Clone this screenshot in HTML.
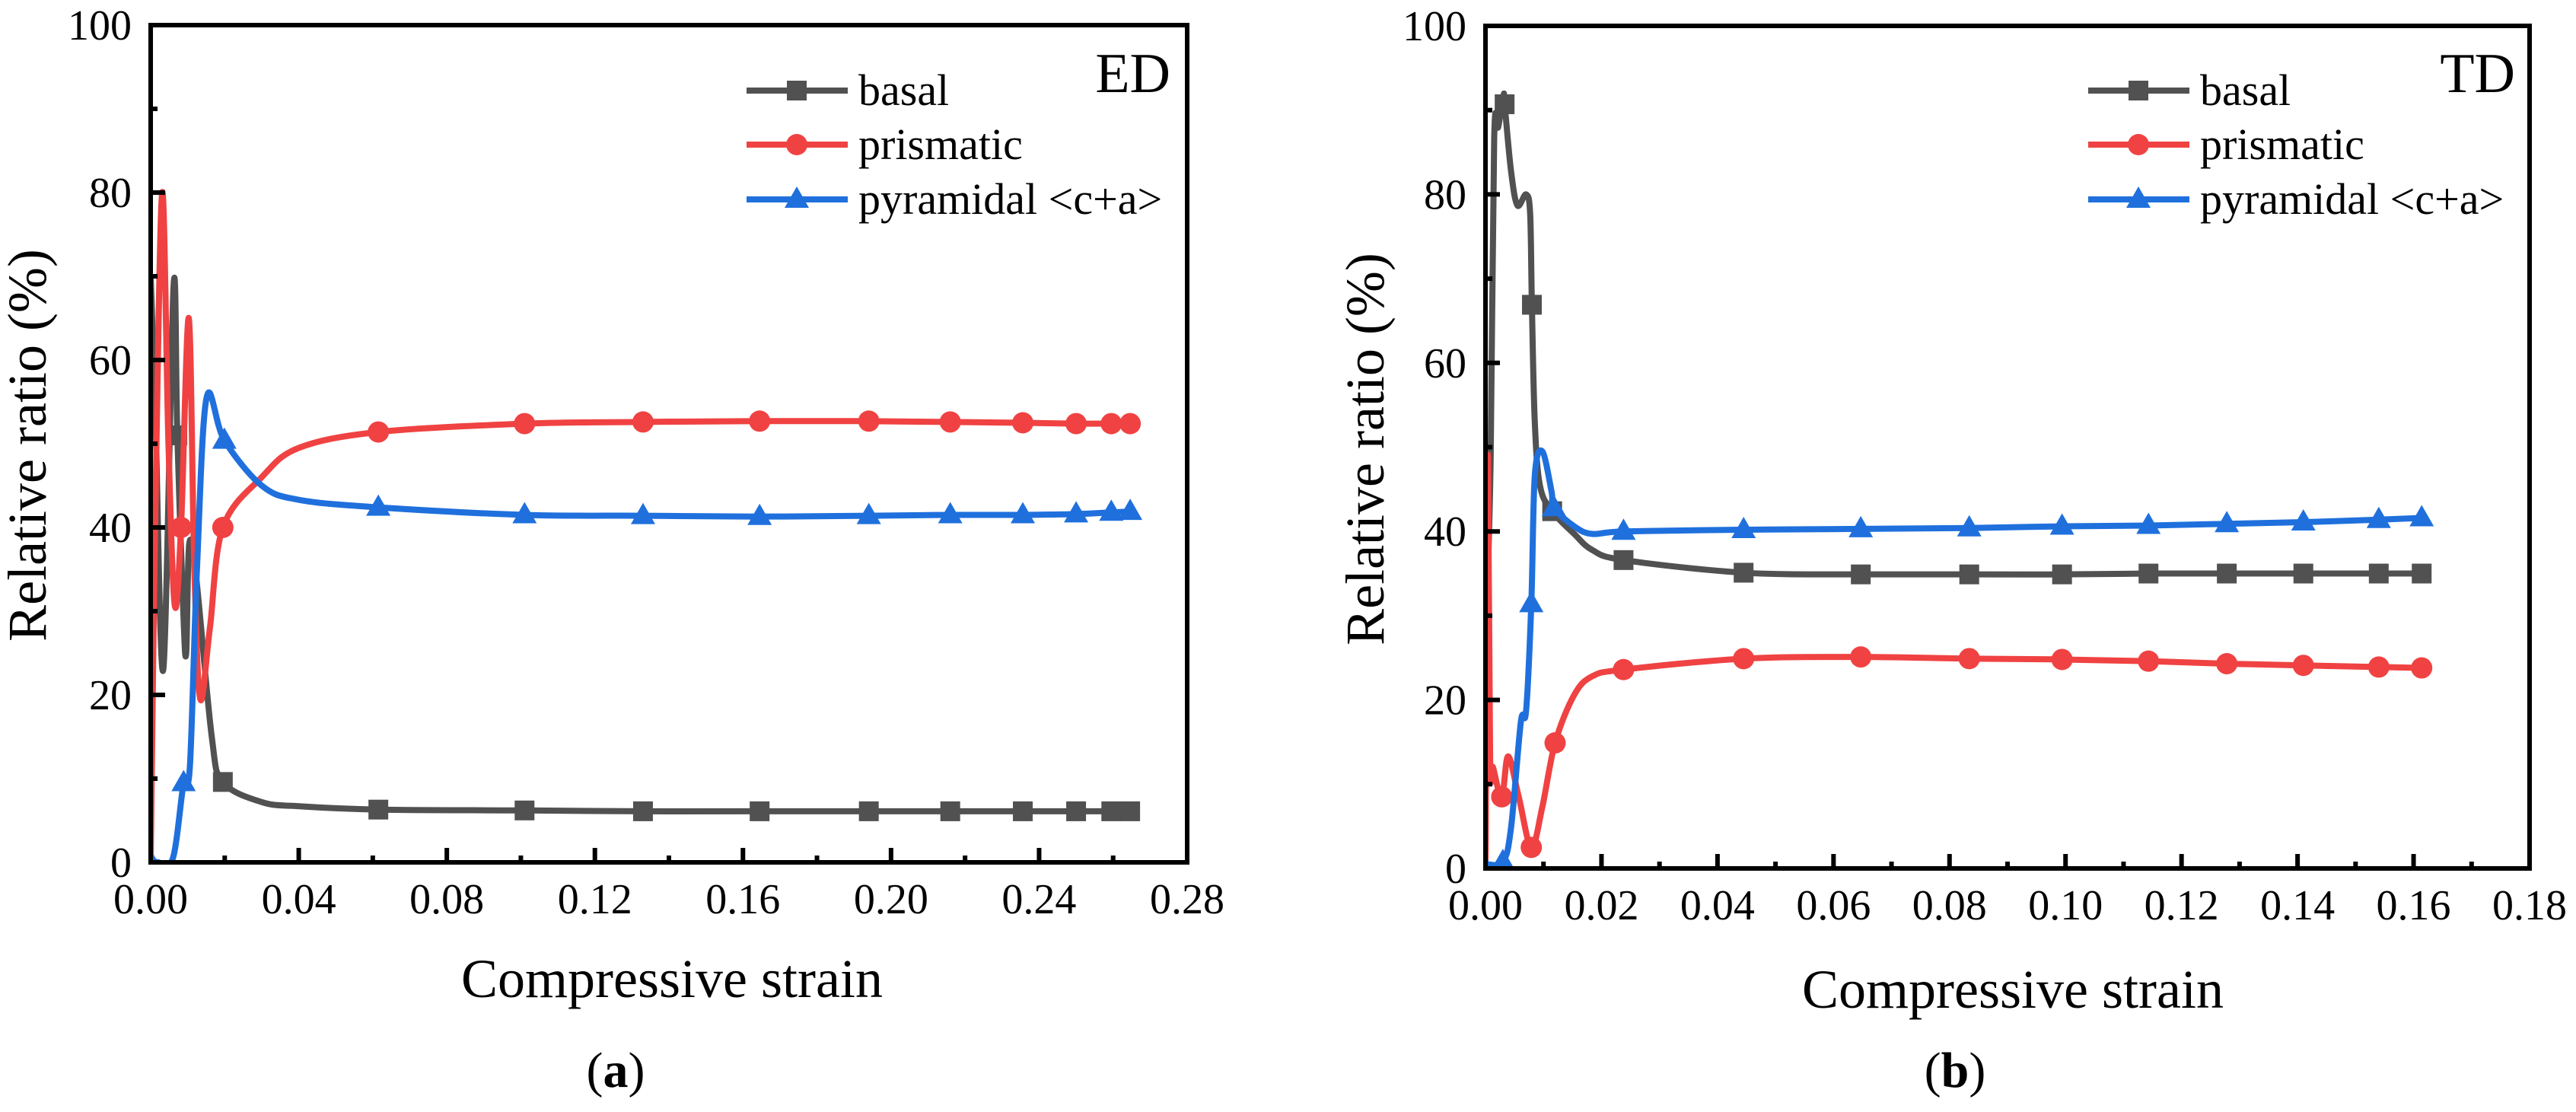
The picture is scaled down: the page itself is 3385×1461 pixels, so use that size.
<!DOCTYPE html>
<html><head><meta charset="utf-8">
<style>
html,body{margin:0;padding:0;background:#fff;}
svg, svg text{font-family:"Liberation Serif","Times New Roman","DejaVu Serif",serif !important;}
</style></head>
<body>
<svg id="fig" width="3385" height="1456" viewBox="0 0 3385 1456" xmlns="http://www.w3.org/2000/svg" font-family="Liberation Serif, Times New Roman, DejaVu Serif, serif"></svg>
<script>
// ---------- Panel (a) ED data ----------
const aBasalX = [0, 0.0012, 0.0034, 0.0062, 0.0072, 0.0088, 0.0096, 0.0104, 0.0123, 0.0165, 0.0195, 0.03, 0.04, 0.0615, 0.101, 0.133, 0.1645, 0.194, 0.216, 0.2356, 0.250, 0.2595, 0.2646];
const aBasalY = [70, 55, 23, 69, 51, 30, 25, 38, 34, 15, 9.6, 7.2, 6.7, 6.3, 6.2, 6.1, 6.1, 6.1, 6.1, 6.1, 6.1, 6.1, 6.1];
const aBasalMX = [0.0072, 0.0195, 0.0615, 0.101, 0.133, 0.1645, 0.194, 0.216, 0.2356, 0.250, 0.2595, 0.2646];
const aBasalMY = [51, 9.6, 6.3, 6.2, 6.1, 6.1, 6.1, 6.1, 6.1, 6.1, 6.1, 6.1];
const aPrisX = [0, 0.0012, 0.0031, 0.0048, 0.0065, 0.0082, 0.0103, 0.0118, 0.0134, 0.016, 0.0195, 0.03, 0.04, 0.0615, 0.101, 0.133, 0.1645, 0.194, 0.216, 0.2356, 0.250, 0.2595, 0.2646];
const aPrisY = [0, 40, 80, 50, 30.7, 40, 65, 35, 19.5, 28, 40, 46, 49.5, 51.4, 52.4, 52.6, 52.7, 52.7, 52.6, 52.5, 52.4, 52.4, 52.4];
const aPrisMX = [0.0082, 0.0195, 0.0615, 0.101, 0.133, 0.1645, 0.194, 0.216, 0.2356, 0.250, 0.2595, 0.2646];
const aPrisMY = [40, 40, 51.4, 52.4, 52.6, 52.7, 52.7, 52.6, 52.5, 52.4, 52.4, 52.4];
const aPyrX = [0, 0.002, 0.006, 0.0089, 0.0106, 0.0125, 0.0151, 0.0199, 0.03, 0.04, 0.0615, 0.101, 0.133, 0.1645, 0.194, 0.216, 0.2356, 0.250, 0.2595, 0.2646];
const aPyrY = [0.5, 0, 0.5, 9.5, 11.5, 35, 55.5, 50.4, 45, 43.3, 42.4, 41.5, 41.4, 41.3, 41.4, 41.5, 41.5, 41.6, 41.8, 41.9];
const aPyrMX = [0, 0.0089, 0.0199, 0.0615, 0.101, 0.133, 0.1645, 0.194, 0.216, 0.2356, 0.250, 0.2595, 0.2646];
const aPyrMY = [0, 9.5, 50.4, 42.4, 41.5, 41.4, 41.3, 41.4, 41.5, 41.5, 41.6, 41.8, 41.9];
const aXTicks = ["0.00","0.04","0.08","0.12","0.16","0.20","0.24","0.28"];
const aYTicks = ["0","20","40","60","80","100"];

// ---------- Panel (b) TD data ----------
const bBasalX = [0, 0.0003, 0.0009, 0.0015, 0.0022, 0.0031, 0.0033, 0.0044, 0.0055, 0.007, 0.0077, 0.008, 0.0085, 0.0094, 0.0115, 0.0153, 0.0184, 0.0238, 0.0445, 0.0647, 0.0834, 0.0994, 0.1143, 0.1278, 0.141, 0.154, 0.1614];
const bBasalY = [0, 30, 49, 86.6, 88, 91.7, 90.7, 82.8, 78.7, 80, 77.7, 66.9, 53, 45.4, 42.4, 39.7, 37.8, 36.6, 35.1, 34.9, 34.9, 34.9, 35, 35, 35, 35, 35];
const bBasalMX = [0.0033, 0.008, 0.0115, 0.0238, 0.0445, 0.0647, 0.0834, 0.0994, 0.1143, 0.1278, 0.141, 0.154, 0.1614];
const bBasalMY = [90.7, 66.9, 42.4, 36.6, 35.1, 34.9, 34.9, 34.9, 35, 35, 35, 35, 35];
const bPrisX = [0, 0.0004, 0.0008, 0.0013, 0.0028, 0.0039, 0.0057, 0.0079, 0.0098, 0.012, 0.0153, 0.0184, 0.0238, 0.0445, 0.0647, 0.0834, 0.0994, 0.1143, 0.1278, 0.141, 0.154, 0.1614];
const bPrisY = [0, 49, 13, 12, 8.5, 13.3, 8.6, 2.5, 7.3, 14.9, 20.6, 22.8, 23.6, 24.9, 25.1, 24.9, 24.8, 24.6, 24.3, 24.1, 23.9, 23.8];
const bPrisMX = [0.0028, 0.0079, 0.012, 0.0238, 0.0445, 0.0647, 0.0834, 0.0994, 0.1143, 0.1278, 0.141, 0.154, 0.1614];
const bPrisMY = [8.5, 2.5, 14.9, 23.6, 24.9, 25.1, 24.9, 24.8, 24.6, 24.3, 24.1, 23.9, 23.8];
const bPyrX = [0, 0.003, 0.0044, 0.0061, 0.007, 0.0079, 0.0085, 0.0098, 0.0114, 0.0118, 0.0153, 0.0184, 0.0238, 0.0445, 0.0647, 0.0834, 0.0994, 0.1143, 0.1278, 0.141, 0.154, 0.1614];
const bPyrY = [0.5, 0.8, 4.8, 17.4, 18.7, 31.4, 46.6, 49.5, 44.7, 42.8, 40.6, 39.7, 40, 40.2, 40.3, 40.4, 40.6, 40.7, 40.9, 41.1, 41.4, 41.6];
const bPyrMX = [0, 0.003, 0.0079, 0.0118, 0.0238, 0.0445, 0.0647, 0.0834, 0.0994, 0.1143, 0.1278, 0.141, 0.154, 0.1614];
const bPyrMY = [0, 0.8, 31.4, 42.8, 40, 40.2, 40.3, 40.4, 40.6, 40.7, 40.9, 41.1, 41.4, 41.6];
const bXTicks = ["0.00","0.02","0.04","0.06","0.08","0.10","0.12","0.14","0.16","0.18"];
const bYTicks = ["0","20","40","60","80","100"];

const seriesNames = ["basal", "prismatic", "pyramidal <c+a>"];
const COLORS = ["#515151", "#f04242", "#1f70dd"];
const FONT = "Liberation Serif, Times New Roman, DejaVu Serif, serif";
const NS = "http://www.w3.org/2000/svg";
const svg = document.getElementById("fig");

function mk(tag, attrs, parent) {
  const e = document.createElementNS(NS, tag);
  for (const k in attrs) e.setAttribute(k, attrs[k]);
  if (tag === "text") e.setAttribute("font-family", FONT);
  (parent || svg).appendChild(e);
  return e;
}

function smoothPath(px, py) {
  let d = "M" + px[0] + "," + py[0];
  for (let i = 0; i < px.length - 1; i++) {
    const x0 = px[Math.max(0, i - 1)], y0 = py[Math.max(0, i - 1)];
    const x1 = px[i], y1 = py[i], x2 = px[i + 1], y2 = py[i + 1];
    const x3 = px[Math.min(px.length - 1, i + 2)], y3 = py[Math.min(px.length - 1, i + 2)];
    const t = 6;
    d += " C" + (x1 + (x2 - x0) / t) + "," + (y1 + (y2 - y0) / t) + " " +
         (x2 - (x3 - x1) / t) + "," + (y2 - (y3 - y1) / t) + " " + x2 + "," + y2;
  }
  return d;
}

function marker(kind, cx, cy, color, g) {
  let m;
  if (kind === 0) m = mk("rect", {x: cx - 13, y: cy - 13, width: 26, height: 26, fill: color}, g);
  else if (kind === 1) m = mk("circle", {cx: cx, cy: cy, r: 14, fill: color}, g);
  else m = mk("polygon", {points: (cx) + "," + (cy - 17) + " " + (cx - 16) + "," + (cy + 11) + " " + (cx + 16) + "," + (cy + 11), fill: color}, g);
  return m;
}

function panel(p) {
  const sx = v => p.x0 + (v - p.xmin) / (p.xmax - p.xmin) * (p.x1 - p.x0);
  const sy = v => p.y0 - v / 100 * (p.y0 - p.y1);
  const g = mk("g", {});
  
  
  const clipId = "clip-" + p.name;
  const cp = mk("clipPath", {id: clipId}, g);
  mk("rect", {x: p.x0, y: p.y1, width: p.x1 - p.x0, height: p.y0 - p.y1}, cp);

  for (let s = 0; s < 3; s++) {
    const sg = mk("g", {"clip-path": "url(#" + clipId + ")"}, g);
    
    
    const xs = p.curves[s][0].map(sx), ys = p.curves[s][1].map(sy);
    const path = mk("path", {d: smoothPath(xs, ys), fill: "none", stroke: COLORS[s], "stroke-width": 8, "stroke-linejoin": "round", "stroke-linecap": "round"}, sg);
    
    
    const mx = p.marks[s][0], my = p.marks[s][1];
    for (let i = 0; i < mx.length; i++) {
      const m = marker(s, sx(mx[i]), sy(my[i]), COLORS[s], sg);
      
      
    }
  }

  const fr = mk("rect", {x: p.x0, y: p.y1, width: p.x1 - p.x0, height: p.y0 - p.y1, fill: "none", stroke: "#000", "stroke-width": 6}, g);
  
  

  const nX = p.xticks.length;
  for (let i = 0; i < nX; i++) {
    const v = p.xmin + i * p.xstep;
    const X = sx(v);
    if (i > 0 && i < nX - 1) mk("line", {x1: X, x2: X, y1: p.y0, y2: p.y0 - 19, stroke: "#000", "stroke-width": 6}, g);
    if (i < nX - 1) { const Xm = sx(v + p.xstep / 2); mk("line", {x1: Xm, x2: Xm, y1: p.y0, y2: p.y0 - 9, stroke: "#000", "stroke-width": 6}, g); }
    const t = mk("text", {x: X, y: p.y0 + 67, "font-size": 56, "text-anchor": "middle"}, g);
    t.textContent = p.xticks[i];
    
    
  }
  for (let i = 0; i < p.yticks.length; i++) {
    const v = i * 20, Y = sy(v);
    if (i > 0 && i < p.yticks.length - 1) mk("line", {x1: p.x0, x2: p.x0 + 19, y1: Y, y2: Y, stroke: "#000", "stroke-width": 6}, g);
    if (i < p.yticks.length - 1) { const Ym = sy(v + 10); mk("line", {x1: p.x0, x2: p.x0 + 9, y1: Ym, y2: Ym, stroke: "#000", "stroke-width": 6}, g); }
    const t = mk("text", {x: p.x0 - 25, y: Y + 19, "font-size": 56, "text-anchor": "end"}, g);
    t.textContent = p.yticks[i];
    
    
  }
  const xt = mk("text", {x: p.xtx, y: p.xty, "font-size": 72, "text-anchor": "middle"}, g);
  xt.textContent = "Compressive strain";
  
  
  const yt = mk("text", {x: 0, y: 0, "font-size": 72, "text-anchor": "middle", transform: "translate(" + p.ytx + "," + p.yty + ") rotate(-90)"}, g);
  yt.textContent = "Relative ratio (%)";
  
  
  const lab = mk("text", {x: p.labx, y: 121, "font-size": 74, "text-anchor": "end"}, g);
  lab.textContent = p.label;
  
  
  const cap = mk("text", {x: p.capx, y: 1428, "font-size": 66, "text-anchor": "middle"}, g);
  cap.innerHTML = '(<tspan font-weight="bold">' + p.cap + '</tspan>)';
  
  

  const rows = [119, 190, 262];
  for (let s = 0; s < 3; s++) {
    const lg = mk("g", {}, g);
    
    
    mk("line", {x1: p.lgx, x2: p.lgx + 133, y1: rows[s], y2: rows[s], stroke: COLORS[s], "stroke-width": 8}, lg);
    marker(s, p.lgx + 66, rows[s], COLORS[s], lg);
    const t = mk("text", {x: p.lgx + 147, y: rows[s] + 19, "font-size": 58}, lg);
    t.textContent = seriesNames[s];
  }
}

panel({name: "panel-a-ed", x0: 198, x1: 1560, y0: 1133, y1: 33, xmin: 0, xmax: 0.28, xstep: 0.04,
  xticks: aXTicks, yticks: aYTicks,
  curves: [[aBasalX, aBasalY], [aPrisX, aPrisY], [aPyrX, aPyrY]],
  marks: [[aBasalMX, aBasalMY], [aPrisMX, aPrisMY], [aPyrMX, aPyrMY]],
  xtx: 883, xty: 1310, ytx: 60, yty: 585, label: "ED", labx: 1538, cap: "a", capx: 809, lgx: 981});
panel({name: "panel-b-td", x0: 1952, x1: 3324, y0: 1141, y1: 34, xmin: 0, xmax: 0.18, xstep: 0.02,
  xticks: bXTicks, yticks: bYTicks,
  curves: [[bBasalX, bBasalY], [bPrisX, bPrisY], [bPyrX, bPyrY]],
  marks: [[bBasalMX, bBasalMY], [bPrisMX, bPrisMY], [bPyrMX, bPyrMY]],
  xtx: 2645, xty: 1324, ytx: 1818, yty: 590, label: "TD", labx: 3305, cap: "b", capx: 2569, lgx: 2744});
</script>
</body></html>
